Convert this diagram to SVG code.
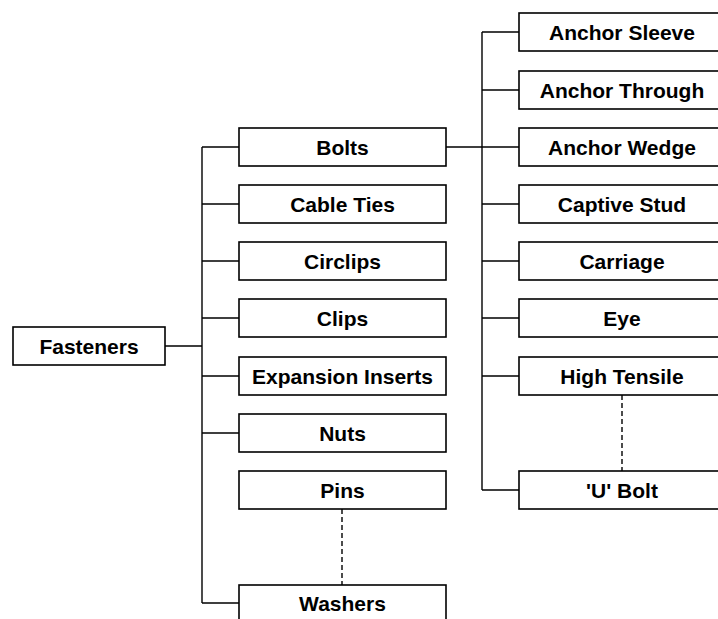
<svg xmlns="http://www.w3.org/2000/svg" width="718" height="619" viewBox="0 0 718 619">
<style>
.box{fill:#fff;stroke:#000;stroke-width:1.6}
.t{font-family:"Liberation Sans",Arial,sans-serif;font-weight:bold;font-size:21px;fill:#000;text-anchor:middle}
.ln{stroke:#000;stroke-width:1.4;fill:none}
.dash{stroke:#000;stroke-width:1.4;fill:none;stroke-dasharray:5,3}
</style>
<rect width="718" height="619" fill="#fff"/>
<g id="connectors">
<path class="ln" d="M165 346H202M202 147V603M202 147H239M202 204H239M202 261H239M202 318H239M202 376H239M202 433H239M202 603H239"/>
<path class="dash" d="M342 509V585"/>
<path class="ln" d="M446 147H519M482 32V490M482 32H519M482 90H519M482 204H519M482 261H519M482 318H519M482 376H519M482 490H519"/>
<path class="dash" d="M622 395V471"/>
</g>
<g id="fasteners"><rect class="box" x="13" y="327" width="152" height="38"/><text class="t" x="89" y="353.5">Fasteners</text></g>
<g id="bolts"><rect class="box" x="239" y="128" width="207" height="38"/><text class="t" x="342.5" y="154.5">Bolts</text></g>
<g id="cable-ties"><rect class="box" x="239" y="185" width="207" height="38"/><text class="t" x="342.5" y="211.5">Cable Ties</text></g>
<g id="circlips"><rect class="box" x="239" y="242" width="207" height="38"/><text class="t" x="342.5" y="268.5">Circlips</text></g>
<g id="clips"><rect class="box" x="239" y="299" width="207" height="38"/><text class="t" x="342.5" y="325.5">Clips</text></g>
<g id="expansion-inserts"><rect class="box" x="239" y="357" width="207" height="38"/><text class="t" x="342.5" y="383.5">Expansion Inserts</text></g>
<g id="nuts"><rect class="box" x="239" y="414" width="207" height="38"/><text class="t" x="342.5" y="440.5">Nuts</text></g>
<g id="pins"><rect class="box" x="239" y="471" width="207" height="38"/><text class="t" x="342.5" y="497.5">Pins</text></g>
<g id="washers"><rect class="box" x="239" y="585" width="207" height="38"/><text class="t" x="342.5" y="610.5">Washers</text></g>
<g id="anchor-sleeve"><rect class="box" x="519" y="13" width="207" height="38"/><text class="t" x="622" y="39.5">Anchor Sleeve</text></g>
<g id="anchor-through"><rect class="box" x="519" y="71" width="207" height="38"/><text class="t" x="622" y="97.5">Anchor Through</text></g>
<g id="anchor-wedge"><rect class="box" x="519" y="128" width="207" height="38"/><text class="t" x="622" y="154.5">Anchor Wedge</text></g>
<g id="captive-stud"><rect class="box" x="519" y="185" width="207" height="38"/><text class="t" x="622" y="211.5">Captive Stud</text></g>
<g id="carriage"><rect class="box" x="519" y="242" width="207" height="38"/><text class="t" x="622" y="268.5">Carriage</text></g>
<g id="eye"><rect class="box" x="519" y="299" width="207" height="38"/><text class="t" x="622" y="325.5">Eye</text></g>
<g id="high-tensile"><rect class="box" x="519" y="357" width="207" height="38"/><text class="t" x="622" y="383.5">High Tensile</text></g>
<g id="u-bolt"><rect class="box" x="519" y="471" width="207" height="38"/><text class="t" x="622" y="497.5">'U' Bolt</text></g>
</svg>
